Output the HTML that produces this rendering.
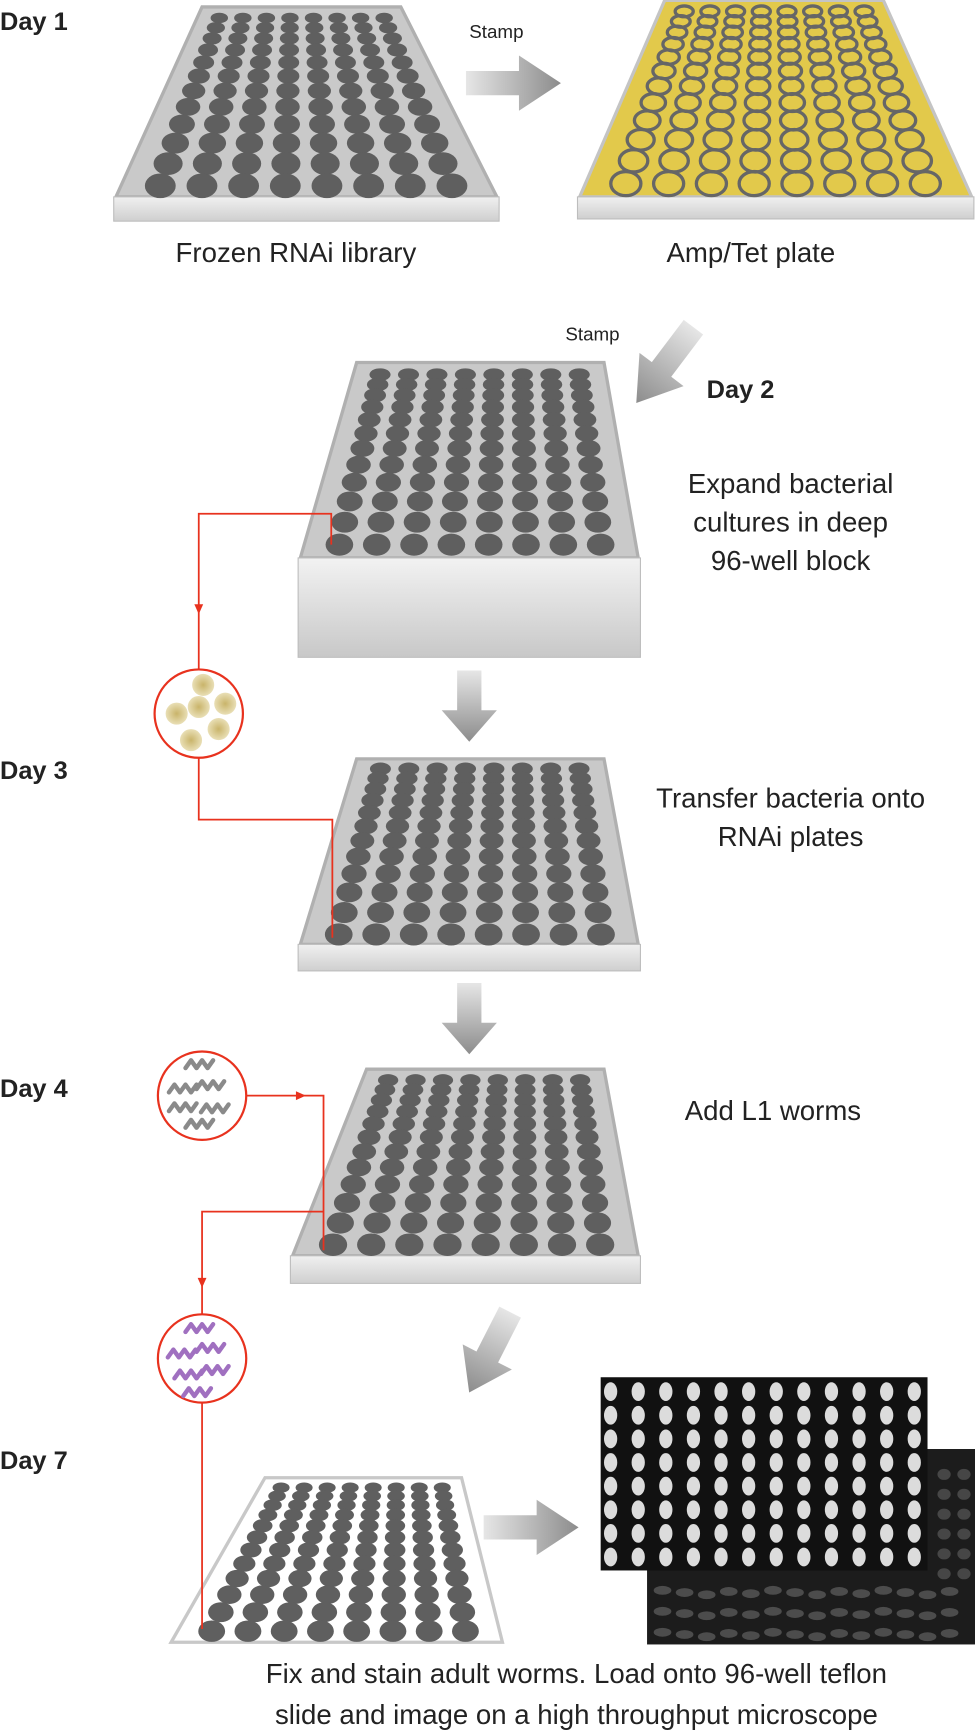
<!DOCTYPE html>
<html><head><meta charset="utf-8"><style>
html,body{margin:0;padding:0;background:#fff;}
svg{display:block;}
text{font-family:"Liberation Sans",Arial,sans-serif;fill:#222;}
.day{font-weight:bold;font-size:23px;}
.lbl{font-size:25px;}
</style></head><body>
<svg id="s" width="975" height="1732" viewBox="0 0 883 1568" xmlns="http://www.w3.org/2000/svg">
<defs>
<linearGradient id="ag" x1="0" y1="0" x2="1" y2="0"><stop offset="0" stop-color="#e6e6e6"/><stop offset="1" stop-color="#8c8c8c"/></linearGradient>
<linearGradient id="base" x1="0" y1="0" x2="0" y2="1"><stop offset="0" stop-color="#f0f0f0"/><stop offset="1" stop-color="#cfcfcf"/></linearGradient>
<linearGradient id="deep" x1="0" y1="0" x2="0" y2="1"><stop offset="0" stop-color="#f2f2f2"/><stop offset="1" stop-color="#c8c8c8"/></linearGradient>
<radialGradient id="bac"><stop offset="0" stop-color="#c9b46a"/><stop offset="1" stop-color="#e9dfb6"/></radialGradient>
<g id="arr"><path d="M0,-11 L48,-11 L48,-25 L86,0 L48,25 L48,11 L0,11 Z" fill="url(#ag)"/></g>
</defs>
<g id="g"></g>

<text class="day" x="0" y="27">Day 1</text>
<text class="day" x="640" y="360">Day 2</text>
<text class="day" x="0" y="705">Day 3</text>
<text class="day" x="0" y="993">Day 4</text>
<text class="day" x="0" y="1330">Day 7</text>

<text x="425" y="34" font-size="17">Stamp</text>
<use href="#arr" x="422" y="75"/>
<text class="lbl" x="268" y="237" text-anchor="middle">Frozen RNAi library</text>
<text class="lbl" x="680" y="237" text-anchor="middle">Amp/Tet plate</text>

<text x="512" y="308" font-size="17">Stamp</text>
<use href="#arr" transform="translate(628,296) rotate(127)"/>

<text class="lbl" x="716" y="446" text-anchor="middle">Expand bacterial</text>
<text class="lbl" x="716" y="481" text-anchor="middle">cultures in deep</text>
<text class="lbl" x="716" y="516" text-anchor="middle">96-well block</text>
<use href="#arr" transform="translate(425,607) rotate(90) scale(0.75,1)"/>
<text class="lbl" x="716" y="731" text-anchor="middle">Transfer bacteria onto</text>
<text class="lbl" x="716" y="766" text-anchor="middle">RNAi plates</text>
<use href="#arr" transform="translate(425,890) rotate(90) scale(0.75,1)"/>
<text class="lbl" x="700" y="1014" text-anchor="middle">Add L1 worms</text>
<use href="#arr" transform="translate(462,1188) rotate(117) scale(0.95,1)"/>
<use href="#arr" transform="translate(438,1383)"/>
<text class="lbl" x="522" y="1524" text-anchor="middle">Fix and stain adult worms.  Load onto 96-well teflon</text>
<text class="lbl" x="522" y="1561" text-anchor="middle">slide and image on a high throughput microscope</text>
</svg>
<script>
var NS="http://www.w3.org/2000/svg",G=document.getElementById('g');
function el(t,a){var e=document.createElementNS(NS,t);for(var k in a)e.setAttribute(k,a[k]);G.appendChild(e);return e;}
function plate(o){
 var y0=o.y0,y1=o.y1;
 el('polygon',{points:o.a0+','+y0+' '+o.b0+','+y0+' '+o.b1+','+y1+' '+o.a1+','+y1,fill:o.fill,stroke:o.stroke,'stroke-width':o.sw||3});
 if(o.base) el('rect',{x:o.a1-2,y:y1,width:o.b1-o.a1+4,height:o.base,fill:o.deep?'url(#deep)':'url(#base)',stroke:'#bdbdbd','stroke-width':1});
 var k=0.9,n=12;
 for(var i=0;i<n;i++){
  var u=i/(n-1),f=(Math.exp(k*u)-1)/(Math.exp(k)-1);
  var y=y0+o.pt+(y1-y0-o.pt-o.pb)*f;
  var t=(y-y0)/(y1-y0),L=o.a0+(o.a1-o.a0)*t,R=o.b0+(o.b1-o.b0)*t;
  var m=(R-L)*0.05;L+=m;R-=m;var w=(R-L)/8;
  var rx=w*0.37,ry=rx*(0.6+0.2*u);
  for(var j=0;j<8;j++){var x=L+w*(j+0.5);
   if(o.ring) el('ellipse',{cx:x,cy:y,rx:rx*0.95,ry:ry*0.95,fill:'none',stroke:'#666','stroke-width':3});
   else el('ellipse',{cx:x,cy:y,rx:rx,ry:ry,fill:'#5f5f5f'});}
 }
}
plate({a0:183,b0:363,a1:105,b1:450,y0:6,y1:178,fill:'#c9c9c9',stroke:'#b0b0b0',pt:10,pb:10,base:22});
plate({a0:602,b0:800,a1:525,b1:880,y0:0,y1:178,fill:'#e2c94b',stroke:'#c4c4c4',pt:10,pb:12,base:20,ring:1});
plate({a0:323,b0:547,a1:272,b1:578,y0:328,y1:505,fill:'#c9c9c9',stroke:'#b0b0b0',pt:11,pb:12,base:90,deep:1});
plate({a0:323,b0:547,a1:272,b1:578,y0:687,y1:855,fill:'#c9c9c9',stroke:'#b0b0b0',pt:9,pb:9,base:24});
plate({a0:332,b0:547,a1:265,b1:578,y0:968,y1:1137,fill:'#c9c9c9',stroke:'#b0b0b0',pt:10,pb:10,base:25});
plate({a0:240,b0:418,a1:155,b1:455,y0:1338,y1:1487,fill:'#fff',stroke:'#c8c8c8',sw:3,pt:9,pb:10});
// microscope images
el('rect',{x:586,y:1312,width:297,height:177,fill:'#1c1c1c'});
for(var r=0;r<3;r++)for(var c=0;c<14;c++)el('ellipse',{cx:600+c*20,cy:1440+r*19+((c*7)%5),rx:8,ry:4,fill:'#888',opacity:0.45});
for(var r=0;r<6;r++)for(var c=0;c<2;c++)el('ellipse',{cx:855+c*18,cy:1335+r*18,rx:6,ry:5,fill:'#888',opacity:0.4});
el('rect',{x:544,y:1247,width:296,height:175,fill:'#111'});
for(var r=0;r<8;r++)for(var c=0;c<12;c++){el('ellipse',{cx:553+c*25,cy:1260+r*21.4,rx:6,ry:8.5,fill:'#dcdcdc'});}
// red connectors
var red='#e8321e';
function pl(p){el('polyline',{points:p,fill:'none',stroke:red,'stroke-width':1.6});}
function tri(x,y,d){var p=d=='d'?[x-4,y-9,x+4,y-9,x,y]:[x-9,y-4,x-9,y+4,x,y];el('polygon',{points:p.join(','),fill:red});}
pl('300,493 300,465 180,465 180,606');tri(180,556,'d');
pl('180,686 180,742 301,742 301,849');
pl('221,992 293,992 293,1132');tri(277,992,'r');
pl('293,1097 183,1097 183,1190');tri(183,1166,'d');
pl('183,1270 183,1475');
function circ(cx,cy){el('circle',{cx:cx,cy:cy,r:40,fill:'#fff',stroke:red,'stroke-width':2});}
circ(180,646);
[[184,620],[204,637],[180,640],[160,646],[198,660],[173,670]].forEach(function(p){el('circle',{cx:p[0],cy:p[1],r:10,fill:'url(#bac)'});});
circ(183,992);circ(183,1230);
function worm(x,y,col){el('path',{d:'M'+x+','+(y+4)+' l5,-7 l5,7 l5,-7 l5,7 l5,-7',fill:'none',stroke:col,'stroke-width':4,'stroke-linecap':'round','stroke-linejoin':'round'});}
[[168,963],[153,985],[178,982],[153,1002],[182,1003],[168,1017]].forEach(function(p){worm(p[0],p[1],'#8a8a8a');});
[[168,1202],[178,1220],[152,1225],[182,1240],[158,1244],[166,1260]].forEach(function(p){worm(p[0],p[1],'#a070c0');});
</script>
</body></html>
